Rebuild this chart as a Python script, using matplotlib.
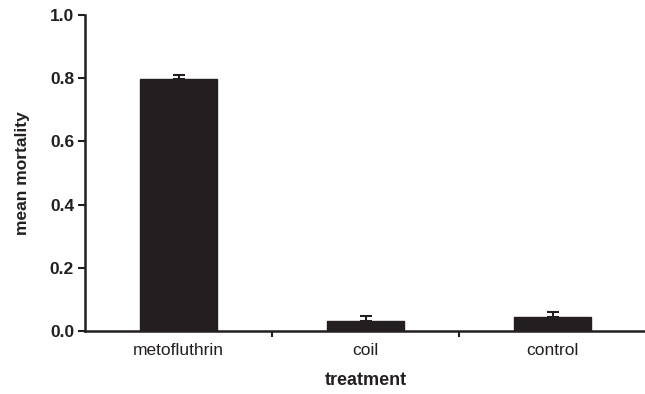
import numpy as np
import matplotlib.pyplot as plt

treatments = ['metofluthrin', 'coil', 'control']
mean_mortality = [0.797, 0.033, 0.043]
err_upper = [0.012, 0.015, 0.016]

plt.rcParams['font.family'] = ['Liberation Sans', 'DejaVu Sans']

fig = plt.figure(figsize=(6.45, 3.94), dpi=100)
ax = fig.add_axes([0.132, 0.16, 0.87, 0.802])

x = np.arange(len(treatments))
ax.bar(x, mean_mortality, width=0.41, color='#231f20', edgecolor='#231f20', zorder=2)
ax.errorbar(x, mean_mortality, yerr=[np.zeros(3), err_upper], fmt='none',
            ecolor='#231f20', elinewidth=1.5, capsize=4, capthick=1.5, zorder=3)

ax.set_xlim(-0.5, 2.5)
ax.set_ylim(0, 1.0)
ax.set_yticks([0.0, 0.2, 0.4, 0.6, 0.8, 1.0])
ax.set_yticklabels(['%.1f' % v for v in [0.0, 0.2, 0.4, 0.6, 0.8, 1.0]],
                   fontsize=12.5, fontweight='bold', color='#231f20')
ax.set_xticks(x)
ax.set_xticklabels(treatments, fontsize=12.5, color='#231f20')
ax.tick_params(axis='x', length=0, pad=9)
ax.set_xticks([0.5, 1.5], minor=True)
ax.tick_params(axis='x', which='minor', length=4, width=1.5, direction='out', color='#231f20')
ax.tick_params(axis='y', length=5, width=1.5, direction='out', color='#231f20', pad=3)

for s in ['top', 'right']:
    ax.spines[s].set_visible(False)
for s in ['left', 'bottom']:
    ax.spines[s].set_linewidth(1.8)
    ax.spines[s].set_color('#231f20')

ax.set_ylabel('mean mortality', fontsize=12.5, fontweight='bold', color='#231f20', labelpad=14)
ax.set_xlabel('treatment', fontsize=13, fontweight='bold', color='#231f20', labelpad=10)

fig.savefig('out.png', dpi=100)
